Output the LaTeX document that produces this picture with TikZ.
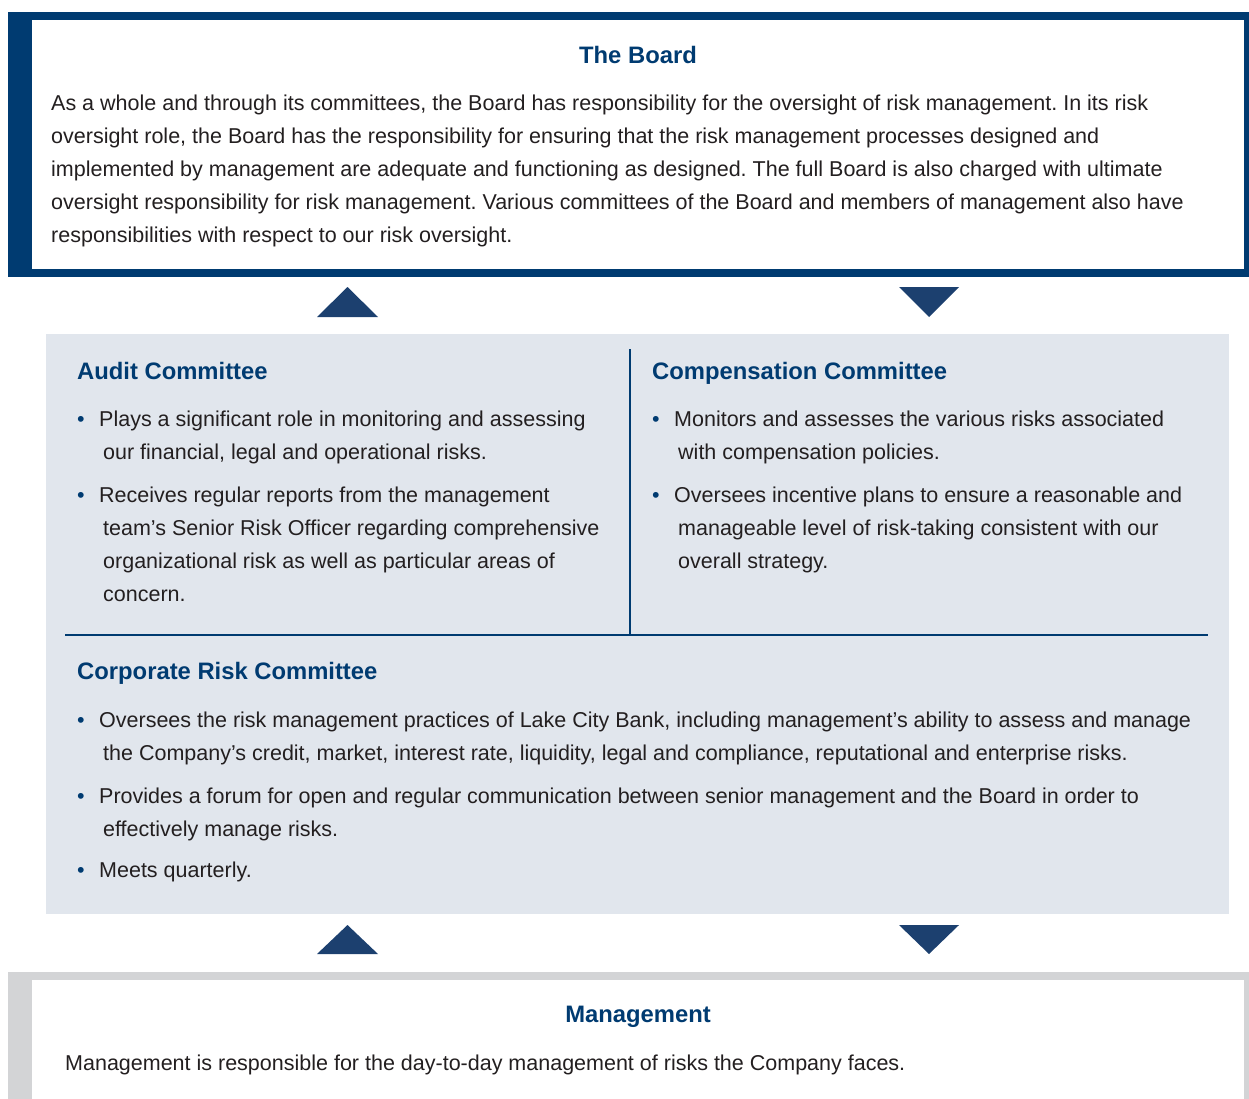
\documentclass[tikz,border=0pt]{standalone}
\usepackage{fontspec}
\setmainfont{Liberation Sans}
\usetikzlibrary{positioning}

\definecolor{navy}{HTML}{003B71}
\definecolor{arrowblue}{HTML}{1C406F}
\definecolor{panelgrey}{HTML}{E1E6ED}
\definecolor{mgmtgrey}{HTML}{D3D4D6}
\definecolor{bodyblack}{HTML}{231F20}

% bullet and hanging indent for the committee lists
\newcommand{\bul}{\makebox[22pt][l]{\textcolor{navy}{\textbullet}}}
\newcommand{\cont}{\hspace*{26pt}}

\tikzset{
  heading/.style={font=\fontsize{23.8}{28}\selectfont\bfseries, text=navy, inner sep=0pt, anchor=base},
  body/.style={font=\fontsize{21.5}{33}\selectfont, text=bodyblack, align=left, inner sep=0pt, anchor=north west},
  rule/.style={draw=navy, line width=2pt},
  uparrow/.style={fill=arrowblue},
}

\frenchspacing
\begin{document}
\begin{tikzpicture}[x=1pt, y=-1pt]
\useasboundingbox (0,0) rectangle (1249,1099);

% board box
\fill[navy] (8,12) rectangle (1249,277);
\fill[white] (32,20) rectangle (1244,269);
\node[heading] (board) at (638,64) {The Board};
\node[body] (boardtext) at (51,95) {As a whole and through its committees, the Board has responsibility for the oversight of risk management. In its risk\\
oversight role, the Board has the responsibility for ensuring that the risk management processes designed and\\
implemented by management are adequate and functioning as designed. The full Board is also charged with ultimate\\
oversight responsibility for risk management. Various committees of the Board and members of management also have\\
responsibilities with respect to our risk oversight.};

% arrows between board and committees
\fill[uparrow] (317,317) -- (347.5,287) -- (378,317) -- cycle;
\fill[uparrow] (899,287) -- (929,317) -- (959,287) -- cycle;

% committees panel
\fill[panelgrey] (46,334) rectangle (1229,914);
\draw[rule] (630,349) -- (630,635);
\draw[rule] (65,635) -- (1208,635);

\node[heading, anchor=base west] (audit) at (77,379) {Audit Committee};
\node[body] (auditA) at (77,411) {\bul Plays a significant role in monitoring and assessing\\
\cont our financial, legal and operational risks.};
\node[body] (auditB) at (77,487) {\bul Receives regular reports from the management\\
\cont team’s Senior Risk Officer regarding comprehensive\\
\cont organizational risk as well as particular areas of\\
\cont concern.};

\node[heading, anchor=base west] (comp) at (652,379) {Compensation Committee};
\node[body] (compA) at (652,411) {\bul Monitors and assesses the various risks associated\\
\cont with compensation policies.};
\node[body] (compB) at (652,487) {\bul Oversees incentive plans to ensure a reasonable and\\
\cont manageable level of risk-taking consistent with our\\
\cont overall strategy.};

\node[heading, anchor=base west] (risk) at (77,679) {Corporate Risk Committee};
\node[body] (riskA) at (77,712) {\bul Oversees the risk management practices of Lake City Bank, including management’s ability to assess and manage\\
\cont the Company’s credit, market, interest rate, liquidity, legal and compliance, reputational and enterprise risks.};
\node[body] (riskB) at (77,788) {\bul Provides a forum for open and regular communication between senior management and the Board in order to\\
\cont effectively manage risks.};
\node[body] (riskC) at (77,862) {\bul Meets quarterly.};

% arrows between committees and management
\fill[uparrow] (317,954) -- (347.5,925) -- (378,954) -- cycle;
\fill[uparrow] (899,925) -- (929,954) -- (959,925) -- cycle;

% management box
\fill[mgmtgrey] (8,972) rectangle (1249,1099);
\fill[white] (32,980) rectangle (1244,1099);
\node[heading] (mgmt) at (638,1022) {Management};
\node[body] (mgmttext) at (65,1055) {Management is responsible for the day-to-day management of risks the Company faces.};
\end{tikzpicture}
\end{document}
